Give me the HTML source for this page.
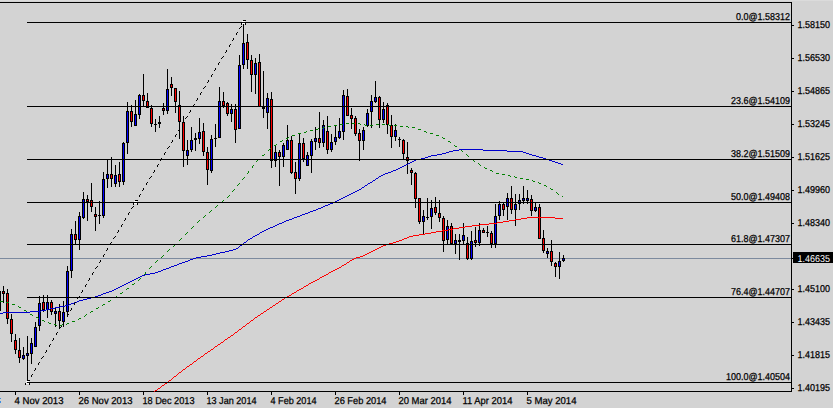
<!DOCTYPE html>
<html><head><meta charset="utf-8"><title>chart</title>
<style>
html,body{margin:0;padding:0;background:#d3d3d3;}
body{width:833px;height:408px;overflow:hidden;font-family:"Liberation Sans",sans-serif;}
svg{display:block;}
svg text{font-family:"Liberation Sans",sans-serif;font-size:10px;text-rendering:geometricPrecision;stroke:#000;stroke-width:0.25px;paint-order:stroke;}
</style></head><body>
<svg width="833" height="408" viewBox="0 0 833 408">
<rect x="0" y="0" width="833" height="408" fill="#d3d3d3"/>
<rect x="0" y="0" width="833" height="1" fill="#dbdbdb"/>
<g shape-rendering="crispEdges" fill="#000">
<!-- frame -->
<rect x="0" y="2" width="792" height="1"/>
<rect x="791" y="2" width="1" height="390"/>
<rect x="0" y="391" width="792" height="1"/>
<!-- price line -->
<rect x="0" y="258" width="791" height="1" fill="#7c8a9e"/>
<!-- ticks -->
<rect x="792" y="25" width="2" height="1"/><rect x="792" y="58" width="2" height="1"/><rect x="792" y="91" width="2" height="1"/><rect x="792" y="124" width="2" height="1"/><rect x="792" y="157" width="2" height="1"/><rect x="792" y="190" width="2" height="1"/><rect x="792" y="223" width="2" height="1"/><rect x="792" y="289" width="2" height="1"/><rect x="792" y="322" width="2" height="1"/><rect x="792" y="355" width="2" height="1"/><rect x="792" y="388" width="2" height="1"/><rect x="15" y="392" width="1" height="3"/><rect x="79" y="392" width="1" height="3"/><rect x="143" y="392" width="1" height="3"/><rect x="207" y="392" width="1" height="3"/><rect x="271" y="392" width="1" height="3"/><rect x="335" y="392" width="1" height="3"/><rect x="399" y="392" width="1" height="3"/><rect x="463" y="392" width="1" height="3"/><rect x="527" y="392" width="1" height="3"/>
<rect x="792" y="258" width="2" height="1"/>
</g>
<g shape-rendering="crispEdges" fill="#000">
<rect x="3" y="286" width="1" height="17"/><rect x="2" y="291" width="3" height="3"/><rect x="3" y="292" width="1" height="1" fill="#ff0000"/><rect x="7" y="289" width="1" height="35"/><rect x="6" y="293" width="3" height="26"/><rect x="7" y="294" width="1" height="24" fill="#ff0000"/><rect x="11" y="314" width="1" height="28"/><rect x="10" y="319" width="3" height="15"/><rect x="11" y="320" width="1" height="13" fill="#ff0000"/><rect x="15" y="334" width="1" height="20"/><rect x="14" y="340" width="3" height="10"/><rect x="15" y="341" width="1" height="8" fill="#ff0000"/><rect x="19" y="338" width="1" height="25"/><rect x="18" y="350" width="3" height="8"/><rect x="19" y="351" width="1" height="6" fill="#ff0000"/><rect x="23" y="347" width="1" height="13"/><rect x="22" y="355" width="3" height="4"/><rect x="23" y="356" width="1" height="2" fill="#0000ff"/><rect x="27" y="336" width="1" height="45"/><rect x="26" y="353" width="3" height="3"/><rect x="27" y="354" width="1" height="1" fill="#0000ff"/><rect x="31" y="338" width="1" height="26"/><rect x="30" y="343" width="3" height="11"/><rect x="31" y="344" width="1" height="9" fill="#0000ff"/><rect x="35" y="322" width="1" height="25"/><rect x="34" y="327" width="3" height="20"/><rect x="35" y="328" width="1" height="18" fill="#0000ff"/><rect x="39" y="296" width="1" height="35"/><rect x="38" y="303" width="3" height="23"/><rect x="39" y="304" width="1" height="21" fill="#0000ff"/><rect x="43" y="295" width="1" height="17"/><rect x="42" y="302" width="3" height="8"/><rect x="43" y="303" width="1" height="6" fill="#ff0000"/><rect x="47" y="295" width="1" height="23"/><rect x="46" y="302" width="3" height="8"/><rect x="47" y="303" width="1" height="6" fill="#0000ff"/><rect x="51" y="300" width="1" height="15"/><rect x="50" y="302" width="3" height="10"/><rect x="51" y="303" width="1" height="8" fill="#ff0000"/><rect x="55" y="308" width="1" height="19"/><rect x="54" y="311" width="3" height="3"/><rect x="55" y="312" width="1" height="1" fill="#0000ff"/><rect x="59" y="304" width="1" height="24"/><rect x="58" y="311" width="3" height="10"/><rect x="59" y="312" width="1" height="8" fill="#ff0000"/><rect x="63" y="301" width="1" height="26"/><rect x="62" y="312" width="3" height="10"/><rect x="63" y="313" width="1" height="8" fill="#0000ff"/><rect x="67" y="266" width="1" height="50"/><rect x="66" y="271" width="3" height="41"/><rect x="67" y="272" width="1" height="39" fill="#0000ff"/><rect x="71" y="229" width="1" height="49"/><rect x="70" y="234" width="3" height="37"/><rect x="71" y="235" width="1" height="35" fill="#0000ff"/><rect x="75" y="221" width="1" height="23"/><rect x="74" y="234" width="3" height="6"/><rect x="75" y="235" width="1" height="4" fill="#ff0000"/><rect x="79" y="212" width="1" height="38"/><rect x="78" y="216" width="3" height="24"/><rect x="79" y="217" width="1" height="22" fill="#0000ff"/><rect x="83" y="192" width="1" height="27"/><rect x="82" y="199" width="3" height="19"/><rect x="83" y="200" width="1" height="17" fill="#0000ff"/><rect x="87" y="195" width="1" height="26"/><rect x="86" y="199" width="3" height="3"/><rect x="87" y="200" width="1" height="1" fill="#ff0000"/><rect x="91" y="183" width="1" height="29"/><rect x="90" y="200" width="3" height="7"/><rect x="91" y="201" width="1" height="5" fill="#ff0000"/><rect x="95" y="207" width="1" height="24"/><rect x="94" y="214" width="3" height="3"/><rect x="95" y="215" width="1" height="1" fill="#ff0000"/><rect x="99" y="201" width="1" height="23"/><rect x="98" y="215" width="3" height="1"/><rect x="103" y="172" width="1" height="46"/><rect x="102" y="179" width="3" height="37"/><rect x="103" y="180" width="1" height="35" fill="#0000ff"/><rect x="107" y="160" width="1" height="28"/><rect x="106" y="174" width="3" height="5"/><rect x="107" y="175" width="1" height="3" fill="#0000ff"/><rect x="111" y="157" width="1" height="30"/><rect x="110" y="174" width="3" height="5"/><rect x="111" y="175" width="1" height="3" fill="#ff0000"/><rect x="115" y="165" width="1" height="22"/><rect x="114" y="175" width="3" height="9"/><rect x="115" y="176" width="1" height="7" fill="#0000ff"/><rect x="119" y="162" width="1" height="25"/><rect x="118" y="174" width="3" height="8"/><rect x="119" y="175" width="1" height="6" fill="#ff0000"/><rect x="123" y="142" width="1" height="43"/><rect x="122" y="143" width="3" height="39"/><rect x="123" y="144" width="1" height="37" fill="#0000ff"/><rect x="127" y="102" width="1" height="52"/><rect x="126" y="111" width="3" height="32"/><rect x="127" y="112" width="1" height="30" fill="#0000ff"/><rect x="131" y="105" width="1" height="22"/><rect x="130" y="111" width="3" height="11"/><rect x="131" y="112" width="1" height="9" fill="#ff0000"/><rect x="135" y="100" width="1" height="26"/><rect x="134" y="114" width="3" height="12"/><rect x="135" y="115" width="1" height="10" fill="#0000ff"/><rect x="139" y="94" width="1" height="25"/><rect x="138" y="95" width="3" height="20"/><rect x="139" y="96" width="1" height="18" fill="#0000ff"/><rect x="143" y="74" width="1" height="32"/><rect x="142" y="95" width="3" height="6"/><rect x="143" y="96" width="1" height="4" fill="#ff0000"/><rect x="147" y="93" width="1" height="15"/><rect x="146" y="101" width="3" height="7"/><rect x="147" y="102" width="1" height="5" fill="#ff0000"/><rect x="151" y="105" width="1" height="22"/><rect x="150" y="108" width="3" height="16"/><rect x="151" y="109" width="1" height="14" fill="#ff0000"/><rect x="155" y="119" width="1" height="13"/><rect x="154" y="124" width="3" height="1"/><rect x="159" y="116" width="1" height="12"/><rect x="158" y="122" width="3" height="2"/><rect x="163" y="103" width="1" height="12"/><rect x="162" y="108" width="3" height="3"/><rect x="163" y="109" width="1" height="1" fill="#ff0000"/><rect x="167" y="69" width="1" height="45"/><rect x="166" y="89" width="3" height="22"/><rect x="167" y="90" width="1" height="20" fill="#0000ff"/><rect x="171" y="77" width="1" height="19"/><rect x="170" y="84" width="3" height="4"/><rect x="171" y="85" width="1" height="2" fill="#ff0000"/><rect x="175" y="88" width="1" height="25"/><rect x="174" y="88" width="3" height="14"/><rect x="175" y="89" width="1" height="12" fill="#ff0000"/><rect x="179" y="91" width="1" height="48"/><rect x="178" y="105" width="3" height="17"/><rect x="179" y="106" width="1" height="15" fill="#ff0000"/><rect x="183" y="116" width="1" height="51"/><rect x="182" y="122" width="3" height="29"/><rect x="183" y="123" width="1" height="27" fill="#ff0000"/><rect x="187" y="140" width="1" height="25"/><rect x="186" y="150" width="3" height="6"/><rect x="187" y="151" width="1" height="4" fill="#0000ff"/><rect x="191" y="127" width="1" height="25"/><rect x="190" y="140" width="3" height="10"/><rect x="191" y="141" width="1" height="8" fill="#0000ff"/><rect x="195" y="133" width="1" height="18"/><rect x="194" y="138" width="3" height="2"/><rect x="199" y="118" width="1" height="26"/><rect x="198" y="132" width="3" height="7"/><rect x="199" y="133" width="1" height="5" fill="#0000ff"/><rect x="203" y="123" width="1" height="33"/><rect x="202" y="131" width="3" height="21"/><rect x="203" y="132" width="1" height="19" fill="#ff0000"/><rect x="207" y="147" width="1" height="38"/><rect x="206" y="152" width="3" height="18"/><rect x="207" y="153" width="1" height="16" fill="#ff0000"/><rect x="211" y="135" width="1" height="38"/><rect x="210" y="139" width="3" height="32"/><rect x="211" y="140" width="1" height="30" fill="#0000ff"/><rect x="215" y="124" width="1" height="23"/><rect x="214" y="138" width="3" height="1"/><rect x="219" y="87" width="1" height="51"/><rect x="218" y="101" width="3" height="37"/><rect x="219" y="102" width="1" height="35" fill="#0000ff"/><rect x="223" y="92" width="1" height="16"/><rect x="222" y="101" width="3" height="5"/><rect x="223" y="102" width="1" height="3" fill="#ff0000"/><rect x="227" y="102" width="1" height="14"/><rect x="226" y="103" width="3" height="11"/><rect x="227" y="104" width="1" height="9" fill="#ff0000"/><rect x="231" y="104" width="1" height="18"/><rect x="230" y="109" width="3" height="5"/><rect x="231" y="110" width="1" height="3" fill="#0000ff"/><rect x="235" y="104" width="1" height="39"/><rect x="234" y="109" width="3" height="21"/><rect x="235" y="110" width="1" height="19" fill="#ff0000"/><rect x="239" y="55" width="1" height="74"/><rect x="238" y="65" width="3" height="64"/><rect x="239" y="66" width="1" height="62" fill="#0000ff"/><rect x="243" y="23" width="1" height="46"/><rect x="242" y="43" width="3" height="22"/><rect x="243" y="44" width="1" height="20" fill="#0000ff"/><rect x="247" y="34" width="1" height="35"/><rect x="246" y="42" width="3" height="18"/><rect x="247" y="43" width="1" height="16" fill="#ff0000"/><rect x="251" y="55" width="1" height="37"/><rect x="250" y="60" width="3" height="15"/><rect x="251" y="61" width="1" height="13" fill="#ff0000"/><rect x="255" y="58" width="1" height="36"/><rect x="254" y="63" width="3" height="12"/><rect x="255" y="64" width="1" height="10" fill="#0000ff"/><rect x="259" y="54" width="1" height="53"/><rect x="258" y="62" width="3" height="45"/><rect x="259" y="63" width="1" height="43" fill="#ff0000"/><rect x="263" y="71" width="1" height="47"/><rect x="262" y="106" width="3" height="3"/><rect x="267" y="93" width="1" height="36"/><rect x="266" y="98" width="3" height="15"/><rect x="267" y="99" width="1" height="13" fill="#0000ff"/><rect x="271" y="92" width="1" height="76"/><rect x="270" y="99" width="3" height="62"/><rect x="271" y="100" width="1" height="60" fill="#ff0000"/><rect x="275" y="145" width="1" height="22"/><rect x="274" y="152" width="3" height="9"/><rect x="275" y="153" width="1" height="7" fill="#0000ff"/><rect x="279" y="150" width="1" height="36"/><rect x="278" y="152" width="3" height="5"/><rect x="279" y="153" width="1" height="3" fill="#ff0000"/><rect x="283" y="143" width="1" height="24"/><rect x="282" y="145" width="3" height="12"/><rect x="283" y="146" width="1" height="10" fill="#0000ff"/><rect x="287" y="125" width="1" height="25"/><rect x="286" y="140" width="3" height="10"/><rect x="287" y="141" width="1" height="8" fill="#0000ff"/><rect x="291" y="136" width="1" height="38"/><rect x="290" y="140" width="3" height="33"/><rect x="291" y="141" width="1" height="31" fill="#ff0000"/><rect x="295" y="162" width="1" height="32"/><rect x="294" y="172" width="3" height="7"/><rect x="295" y="173" width="1" height="5" fill="#ff0000"/><rect x="299" y="134" width="1" height="47"/><rect x="298" y="143" width="3" height="36"/><rect x="299" y="144" width="1" height="34" fill="#0000ff"/><rect x="303" y="138" width="1" height="24"/><rect x="302" y="143" width="3" height="16"/><rect x="303" y="144" width="1" height="14" fill="#ff0000"/><rect x="307" y="152" width="1" height="14"/><rect x="306" y="155" width="3" height="11"/><rect x="307" y="156" width="1" height="9" fill="#0000ff"/><rect x="311" y="139" width="1" height="34"/><rect x="310" y="141" width="3" height="15"/><rect x="311" y="142" width="1" height="13" fill="#0000ff"/><rect x="315" y="127" width="1" height="23"/><rect x="314" y="138" width="3" height="4"/><rect x="315" y="139" width="1" height="2" fill="#0000ff"/><rect x="319" y="112" width="1" height="36"/><rect x="318" y="138" width="3" height="5"/><rect x="319" y="139" width="1" height="3" fill="#ff0000"/><rect x="323" y="120" width="1" height="27"/><rect x="322" y="125" width="3" height="18"/><rect x="323" y="126" width="1" height="16" fill="#0000ff"/><rect x="327" y="116" width="1" height="38"/><rect x="326" y="131" width="3" height="19"/><rect x="327" y="132" width="1" height="17" fill="#ff0000"/><rect x="331" y="134" width="1" height="18"/><rect x="330" y="142" width="3" height="8"/><rect x="331" y="143" width="1" height="6" fill="#0000ff"/><rect x="335" y="125" width="1" height="20"/><rect x="334" y="137" width="3" height="5"/><rect x="335" y="138" width="1" height="3" fill="#0000ff"/><rect x="339" y="118" width="1" height="21"/><rect x="338" y="131" width="3" height="7"/><rect x="339" y="132" width="1" height="5" fill="#0000ff"/><rect x="343" y="90" width="1" height="50"/><rect x="342" y="95" width="3" height="37"/><rect x="343" y="96" width="1" height="35" fill="#0000ff"/><rect x="347" y="89" width="1" height="27"/><rect x="346" y="96" width="3" height="20"/><rect x="347" y="97" width="1" height="18" fill="#ff0000"/><rect x="351" y="108" width="1" height="21"/><rect x="350" y="115" width="3" height="4"/><rect x="351" y="116" width="1" height="2" fill="#ff0000"/><rect x="355" y="116" width="1" height="20"/><rect x="354" y="118" width="3" height="16"/><rect x="355" y="119" width="1" height="14" fill="#ff0000"/><rect x="359" y="129" width="1" height="32"/><rect x="358" y="133" width="3" height="8"/><rect x="359" y="134" width="1" height="6" fill="#ff0000"/><rect x="363" y="127" width="1" height="23"/><rect x="362" y="130" width="3" height="11"/><rect x="363" y="131" width="1" height="9" fill="#0000ff"/><rect x="367" y="109" width="1" height="18"/><rect x="366" y="113" width="3" height="13"/><rect x="367" y="114" width="1" height="11" fill="#0000ff"/><rect x="371" y="95" width="1" height="33"/><rect x="370" y="101" width="3" height="11"/><rect x="371" y="102" width="1" height="9" fill="#0000ff"/><rect x="375" y="81" width="1" height="22"/><rect x="374" y="97" width="3" height="5"/><rect x="375" y="98" width="1" height="3" fill="#0000ff"/><rect x="379" y="96" width="1" height="32"/><rect x="378" y="97" width="3" height="23"/><rect x="379" y="98" width="1" height="21" fill="#ff0000"/><rect x="383" y="102" width="1" height="21"/><rect x="382" y="109" width="3" height="11"/><rect x="383" y="110" width="1" height="9" fill="#0000ff"/><rect x="387" y="103" width="1" height="31"/><rect x="386" y="105" width="3" height="20"/><rect x="387" y="106" width="1" height="18" fill="#ff0000"/><rect x="391" y="115" width="1" height="33"/><rect x="390" y="125" width="3" height="12"/><rect x="391" y="126" width="1" height="10" fill="#ff0000"/><rect x="395" y="124" width="1" height="17"/><rect x="394" y="130" width="3" height="7"/><rect x="395" y="131" width="1" height="5" fill="#0000ff"/><rect x="399" y="137" width="1" height="10"/><rect x="398" y="139" width="3" height="1"/><rect x="403" y="139" width="1" height="20"/><rect x="402" y="140" width="3" height="14"/><rect x="403" y="141" width="1" height="12" fill="#ff0000"/><rect x="407" y="142" width="1" height="32"/><rect x="406" y="157" width="3" height="4"/><rect x="407" y="158" width="1" height="2" fill="#ff0000"/><rect x="411" y="168" width="1" height="17"/><rect x="410" y="170" width="3" height="3"/><rect x="411" y="171" width="1" height="1" fill="#ff0000"/><rect x="415" y="172" width="1" height="36"/><rect x="414" y="173" width="3" height="26"/><rect x="415" y="174" width="1" height="24" fill="#ff0000"/><rect x="419" y="198" width="1" height="26"/><rect x="418" y="198" width="3" height="24"/><rect x="419" y="199" width="1" height="22" fill="#ff0000"/><rect x="423" y="210" width="1" height="24"/><rect x="422" y="216" width="3" height="6"/><rect x="423" y="217" width="1" height="4" fill="#0000ff"/><rect x="427" y="198" width="1" height="22"/><rect x="426" y="217" width="3" height="1"/><rect x="431" y="200" width="1" height="29"/><rect x="430" y="208" width="3" height="9"/><rect x="431" y="209" width="1" height="7" fill="#0000ff"/><rect x="435" y="197" width="1" height="18"/><rect x="434" y="207" width="3" height="6"/><rect x="435" y="208" width="1" height="4" fill="#ff0000"/><rect x="439" y="200" width="1" height="22"/><rect x="438" y="213" width="3" height="5"/><rect x="439" y="214" width="1" height="3" fill="#ff0000"/><rect x="443" y="216" width="1" height="36"/><rect x="442" y="218" width="3" height="23"/><rect x="443" y="219" width="1" height="21" fill="#ff0000"/><rect x="447" y="220" width="1" height="24"/><rect x="446" y="226" width="3" height="14"/><rect x="447" y="227" width="1" height="12" fill="#0000ff"/><rect x="451" y="223" width="1" height="21"/><rect x="450" y="226" width="3" height="18"/><rect x="451" y="227" width="1" height="16" fill="#ff0000"/><rect x="455" y="234" width="1" height="20"/><rect x="454" y="240" width="3" height="4"/><rect x="455" y="241" width="1" height="2" fill="#0000ff"/><rect x="459" y="234" width="1" height="26"/><rect x="458" y="240" width="3" height="2"/><rect x="463" y="223" width="1" height="21"/><rect x="462" y="235" width="3" height="6"/><rect x="463" y="236" width="1" height="4" fill="#0000ff"/><rect x="467" y="237" width="1" height="23"/><rect x="466" y="243" width="3" height="16"/><rect x="467" y="244" width="1" height="14" fill="#ff0000"/><rect x="471" y="231" width="1" height="29"/><rect x="470" y="241" width="3" height="18"/><rect x="471" y="242" width="1" height="16" fill="#0000ff"/><rect x="475" y="227" width="1" height="20"/><rect x="474" y="240" width="3" height="3"/><rect x="475" y="241" width="1" height="1" fill="#ff0000"/><rect x="479" y="223" width="1" height="23"/><rect x="478" y="230" width="3" height="13"/><rect x="479" y="231" width="1" height="11" fill="#0000ff"/><rect x="483" y="228" width="1" height="5"/><rect x="482" y="230" width="3" height="3"/><rect x="483" y="231" width="1" height="1" fill="#ff0000"/><rect x="487" y="226" width="1" height="11"/><rect x="486" y="232" width="3" height="1"/><rect x="491" y="231" width="1" height="17"/><rect x="490" y="233" width="3" height="11"/><rect x="491" y="234" width="1" height="9" fill="#ff0000"/><rect x="495" y="204" width="1" height="44"/><rect x="494" y="216" width="3" height="28"/><rect x="495" y="217" width="1" height="26" fill="#0000ff"/><rect x="499" y="201" width="1" height="19"/><rect x="498" y="204" width="3" height="12"/><rect x="499" y="205" width="1" height="10" fill="#0000ff"/><rect x="503" y="203" width="1" height="13"/><rect x="502" y="204" width="3" height="6"/><rect x="503" y="205" width="1" height="4" fill="#ff0000"/><rect x="507" y="193" width="1" height="27"/><rect x="506" y="198" width="3" height="9"/><rect x="507" y="199" width="1" height="7" fill="#0000ff"/><rect x="511" y="186" width="1" height="28"/><rect x="510" y="198" width="3" height="12"/><rect x="511" y="199" width="1" height="10" fill="#ff0000"/><rect x="515" y="194" width="1" height="32"/><rect x="514" y="204" width="3" height="6"/><rect x="515" y="205" width="1" height="4" fill="#0000ff"/><rect x="519" y="194" width="1" height="16"/><rect x="518" y="200" width="3" height="4"/><rect x="519" y="201" width="1" height="2" fill="#0000ff"/><rect x="523" y="186" width="1" height="18"/><rect x="522" y="198" width="3" height="3"/><rect x="523" y="199" width="1" height="1" fill="#0000ff"/><rect x="527" y="190" width="1" height="14"/><rect x="526" y="198" width="3" height="3"/><rect x="527" y="199" width="1" height="1" fill="#0000ff"/><rect x="531" y="195" width="1" height="21"/><rect x="530" y="199" width="3" height="12"/><rect x="531" y="200" width="1" height="10" fill="#ff0000"/><rect x="535" y="203" width="1" height="9"/><rect x="534" y="207" width="3" height="4"/><rect x="535" y="208" width="1" height="2" fill="#0000ff"/><rect x="539" y="204" width="1" height="35"/><rect x="538" y="207" width="3" height="32"/><rect x="539" y="208" width="1" height="30" fill="#ff0000"/><rect x="543" y="230" width="1" height="23"/><rect x="542" y="238" width="3" height="13"/><rect x="543" y="239" width="1" height="11" fill="#ff0000"/><rect x="547" y="248" width="1" height="10"/><rect x="546" y="251" width="3" height="3"/><rect x="547" y="252" width="1" height="1" fill="#0000ff"/><rect x="551" y="240" width="1" height="26"/><rect x="550" y="251" width="3" height="11"/><rect x="551" y="252" width="1" height="9" fill="#ff0000"/><rect x="555" y="262" width="1" height="15"/><rect x="554" y="263" width="3" height="4"/><rect x="555" y="264" width="1" height="2" fill="#ff0000"/><rect x="559" y="252" width="1" height="27"/><rect x="558" y="261" width="3" height="6"/><rect x="559" y="262" width="1" height="4" fill="#0000ff"/><rect x="563" y="255" width="1" height="7"/><rect x="562" y="258" width="3" height="3"/><rect x="563" y="259" width="1" height="1" fill="#0000ff"/><rect x="0" y="291" width="1" height="20"/>
</g>
<g shape-rendering="crispEdges">
<path d="M346 123h3v1h-3zM352 123h3v1h-3zM358 123h2v1h-2zM340 124h3v1h-3zM360 124h1v1h-1zM364 124h1v1h-1zM376 124h3v1h-3zM382 124h3v1h-3zM388 124h1v1h-1zM334 125h3v1h-3zM365 125h2v1h-2zM370 125h3v1h-3zM389 125h2v1h-2zM394 125h3v1h-3zM328 126h3v1h-3zM400 126h3v1h-3zM406 126h2v1h-2zM323 127h2v1h-2zM408 127h1v1h-1zM412 127h3v1h-3zM318 128h1v1h-1zM322 128h1v1h-1zM316 129h2v1h-2zM418 129h3v1h-3zM310 130h3v1h-3zM306 131h1v1h-1zM424 131h2v1h-2zM304 132h2v1h-2zM426 132h1v1h-1zM298 133h3v1h-3zM430 133h3v1h-3zM292 135h3v1h-3zM436 135h3v1h-3zM288 137h1v1h-1zM442 137h1v1h-1zM286 138h2v1h-2zM443 138h2v1h-2zM282 140h1v1h-1zM280 141h2v1h-2zM448 141h2v1h-2zM450 142h1v1h-1zM276 144h1v1h-1zM274 145h2v1h-2zM454 145h1v1h-1zM455 146h2v1h-2zM270 148h1v1h-1zM269 149h1v1h-1zM460 149h1v1h-1zM268 150h1v1h-1zM461 150h1v1h-1zM462 151h1v1h-1zM264 154h1v1h-1zM466 154h1v1h-1zM262 155h2v1h-2zM467 155h1v1h-1zM468 156h1v1h-1zM258 159h1v1h-1zM472 159h1v1h-1zM257 160h1v1h-1zM473 160h1v1h-1zM256 161h1v1h-1zM474 161h1v1h-1zM478 163h1v1h-1zM479 164h1v1h-1zM253 165h1v1h-1zM480 165h1v1h-1zM252 166h1v1h-1zM252 167h1v1h-1zM484 167h1v1h-1zM485 168h2v1h-2zM490 170h2v1h-2zM248 171h1v1h-1zM492 171h1v1h-1zM248 172h1v1h-1zM247 173h1v1h-1zM496 173h3v1h-3zM502 174h3v1h-3zM508 175h2v1h-2zM510 176h1v1h-1zM514 176h1v1h-1zM244 177h1v1h-1zM515 177h2v1h-2zM243 178h1v1h-1zM520 178h3v1h-3zM242 179h1v1h-1zM526 179h3v1h-3zM532 180h1v1h-1zM533 181h2v1h-2zM538 182h1v1h-1zM239 183h1v1h-1zM539 183h2v1h-2zM238 184h1v1h-1zM237 185h1v1h-1zM544 185h2v1h-2zM546 186h1v1h-1zM550 188h1v1h-1zM234 189h1v1h-1zM551 189h2v1h-2zM233 190h1v1h-1zM232 191h1v1h-1zM556 192h1v1h-1zM557 193h1v1h-1zM558 194h1v1h-1zM229 195h1v1h-1zM228 196h1v1h-1zM562 196h1v1h-1zM227 197h1v1h-1zM223 200h1v1h-1zM222 201h1v1h-1zM221 202h1v1h-1zM217 205h1v1h-1zM216 206h1v1h-1zM215 207h1v1h-1zM211 210h1v1h-1zM210 211h1v1h-1zM209 212h1v1h-1zM205 215h1v1h-1zM204 216h1v1h-1zM203 217h1v1h-1zM199 220h1v1h-1zM198 221h1v1h-1zM197 222h1v1h-1zM193 226h1v1h-1zM192 227h1v1h-1zM191 228h1v1h-1zM187 232h1v1h-1zM186 233h1v1h-1zM185 234h1v1h-1zM181 238h1v1h-1zM180 239h1v1h-1zM179 240h1v1h-1zM175 244h1v1h-1zM174 245h1v1h-1zM173 246h1v1h-1zM169 249h1v1h-1zM168 250h1v1h-1zM167 251h1v1h-1zM163 255h1v1h-1zM162 256h1v1h-1zM161 257h1v1h-1zM157 260h1v1h-1zM156 261h1v1h-1zM155 262h1v1h-1zM151 266h1v1h-1zM150 267h1v1h-1zM149 268h1v1h-1zM145 272h1v1h-1zM145 273h1v1h-1zM144 274h1v1h-1zM140 278h1v1h-1zM139 279h1v1h-1zM138 280h1v1h-1zM134 283h1v1h-1zM132 284h2v1h-2zM127 288h2v1h-2zM126 289h1v1h-1zM122 292h1v1h-1zM120 293h2v1h-2zM116 296h1v1h-1zM114 297h2v1h-2zM110 300h1v1h-1zM0 301h3v1h-3zM108 301h2v1h-2zM6 302h3v1h-3zM12 304h3v1h-3zM103 304h2v1h-2zM102 305h1v1h-1zM18 306h1v1h-1zM19 307h2v1h-2zM98 307h1v1h-1zM96 308h2v1h-2zM24 310h2v1h-2zM26 311h1v1h-1zM91 311h2v1h-2zM90 312h1v1h-1zM30 314h2v1h-2zM86 314h1v1h-1zM32 315h1v1h-1zM85 315h1v1h-1zM84 316h1v1h-1zM36 317h2v1h-2zM38 318h1v1h-1zM79 318h2v1h-2zM78 319h1v1h-1zM42 320h2v1h-2zM44 321h1v1h-1zM72 321h3v1h-3zM48 322h1v1h-1zM49 323h2v1h-2zM67 323h2v1h-2zM54 324h2v1h-2zM62 324h1v1h-1zM66 324h1v1h-1zM56 325h1v1h-1zM60 325h2v1h-2z" fill="#008000"/>
<path d="M459 149h24v1h-24zM453 150h6v1h-6zM483 150h24v1h-24zM449 151h4v1h-4zM507 151h16v1h-16zM446 152h3v1h-3zM523 152h3v1h-3zM442 153h4v1h-4zM526 153h3v1h-3zM437 154h5v1h-5zM529 154h3v1h-3zM431 155h6v1h-6zM532 155h4v1h-4zM428 156h3v1h-3zM536 156h3v1h-3zM425 157h3v1h-3zM539 157h4v1h-4zM421 158h4v1h-4zM543 158h3v1h-3zM416 159h5v1h-5zM546 159h3v1h-3zM414 160h2v1h-2zM549 160h3v1h-3zM412 161h2v1h-2zM552 161h3v1h-3zM410 162h2v1h-2zM555 162h3v1h-3zM408 163h2v1h-2zM558 163h3v1h-3zM406 164h2v1h-2zM561 164h2v1h-2zM404 165h2v1h-2zM402 166h2v1h-2zM400 167h2v1h-2zM398 168h2v1h-2zM396 169h2v1h-2zM393 170h3v1h-3zM391 171h2v1h-2zM388 172h3v1h-3zM385 173h3v1h-3zM383 174h2v1h-2zM381 175h2v1h-2zM379 176h2v1h-2zM378 177h1v1h-1zM376 178h2v1h-2zM375 179h1v1h-1zM373 180h2v1h-2zM372 181h1v1h-1zM370 182h2v1h-2zM368 183h2v1h-2zM367 184h1v1h-1zM365 185h2v1h-2zM364 186h1v1h-1zM362 187h2v1h-2zM361 188h1v1h-1zM359 189h2v1h-2zM357 190h2v1h-2zM355 191h2v1h-2zM353 192h2v1h-2zM351 193h2v1h-2zM349 194h2v1h-2zM347 195h2v1h-2zM345 196h2v1h-2zM343 197h2v1h-2zM341 198h2v1h-2zM339 199h2v1h-2zM337 200h2v1h-2zM335 201h2v1h-2zM333 202h2v1h-2zM330 203h3v1h-3zM328 204h2v1h-2zM325 205h3v1h-3zM323 206h2v1h-2zM321 207h2v1h-2zM318 208h3v1h-3zM316 209h2v1h-2zM313 210h3v1h-3zM310 211h3v1h-3zM308 212h2v1h-2zM305 213h3v1h-3zM302 214h3v1h-3zM300 215h2v1h-2zM297 216h3v1h-3zM294 217h3v1h-3zM292 218h2v1h-2zM289 219h3v1h-3zM286 220h3v1h-3zM284 221h2v1h-2zM282 222h2v1h-2zM279 223h3v1h-3zM277 224h2v1h-2zM275 225h2v1h-2zM273 226h2v1h-2zM270 227h3v1h-3zM268 228h2v1h-2zM266 229h2v1h-2zM264 230h2v1h-2zM262 231h2v1h-2zM260 232h2v1h-2zM259 233h1v1h-1zM257 234h2v1h-2zM255 235h2v1h-2zM253 236h2v1h-2zM252 237h1v1h-1zM250 238h2v1h-2zM248 239h2v1h-2zM247 240h1v1h-1zM246 241h1v1h-1zM244 242h2v1h-2zM243 243h1v1h-1zM242 244h1v1h-1zM240 245h2v1h-2zM239 246h1v1h-1zM238 247h1v1h-1zM236 248h2v1h-2zM233 249h3v1h-3zM229 250h4v1h-4zM225 251h4v1h-4zM220 252h5v1h-5zM216 253h4v1h-4zM212 254h4v1h-4zM207 255h5v1h-5zM201 256h6v1h-6zM196 257h5v1h-5zM193 258h3v1h-3zM190 259h3v1h-3zM188 260h2v1h-2zM185 261h3v1h-3zM182 262h3v1h-3zM179 263h3v1h-3zM177 264h2v1h-2zM174 265h3v1h-3zM171 266h3v1h-3zM169 267h2v1h-2zM166 268h3v1h-3zM163 269h3v1h-3zM161 270h2v1h-2zM158 271h3v1h-3zM155 272h3v1h-3zM150 273h5v1h-5zM145 274h5v1h-5zM142 275h3v1h-3zM140 276h2v1h-2zM138 277h2v1h-2zM136 278h2v1h-2zM134 279h2v1h-2zM132 280h2v1h-2zM130 281h2v1h-2zM128 282h2v1h-2zM126 283h2v1h-2zM124 284h2v1h-2zM122 285h2v1h-2zM120 286h2v1h-2zM118 287h2v1h-2zM116 288h2v1h-2zM114 289h2v1h-2zM112 290h2v1h-2zM109 291h3v1h-3zM106 292h3v1h-3zM103 293h3v1h-3zM101 294h2v1h-2zM98 295h3v1h-3zM95 296h3v1h-3zM91 297h4v1h-4zM87 298h4v1h-4zM83 299h4v1h-4zM79 300h4v1h-4zM77 301h2v1h-2zM74 302h3v1h-3zM71 303h3v1h-3zM69 304h2v1h-2zM65 305h4v1h-4zM60 306h5v1h-5zM55 307h5v1h-5zM50 308h5v1h-5zM46 309h4v1h-4zM41 310h5v1h-5zM30 311h11v1h-11zM3 312h27v1h-27zM0 313h3v1h-3z" fill="#0000cd"/>
<path d="M527 217h28v1h-28zM521 218h6v1h-6zM555 218h8v1h-8zM515 219h6v1h-6zM509 220h6v1h-6zM503 221h6v1h-6zM497 222h6v1h-6zM489 223h8v1h-8zM480 224h9v1h-9zM472 225h8v1h-8zM465 226h7v1h-7zM459 227h6v1h-6zM453 228h6v1h-6zM448 229h5v1h-5zM442 230h6v1h-6zM436 231h6v1h-6zM431 232h5v1h-5zM425 233h6v1h-6zM419 234h6v1h-6zM413 235h6v1h-6zM409 236h4v1h-4zM407 237h2v1h-2zM404 238h3v1h-3zM402 239h2v1h-2zM399 240h3v1h-3zM396 241h3v1h-3zM393 242h3v1h-3zM389 243h4v1h-4zM386 244h3v1h-3zM383 245h3v1h-3zM381 246h2v1h-2zM379 247h2v1h-2zM377 248h2v1h-2zM375 249h2v1h-2zM373 250h2v1h-2zM371 251h2v1h-2zM369 252h2v1h-2zM367 253h2v1h-2zM365 254h2v1h-2zM363 255h2v1h-2zM360 256h3v1h-3zM356 257h4v1h-4zM354 258h2v1h-2zM352 259h2v1h-2zM350 260h2v1h-2zM349 261h1v1h-1zM347 262h2v1h-2zM346 263h1v1h-1zM344 264h2v1h-2zM342 265h2v1h-2zM341 266h1v1h-1zM339 267h2v1h-2zM337 268h2v1h-2zM335 269h2v1h-2zM333 270h2v1h-2zM331 271h2v1h-2zM329 272h2v1h-2zM328 273h1v1h-1zM326 274h2v1h-2zM324 275h2v1h-2zM322 276h2v1h-2zM320 277h2v1h-2zM319 278h1v1h-1zM317 279h2v1h-2zM315 280h2v1h-2zM313 281h2v1h-2zM311 282h2v1h-2zM309 283h2v1h-2zM308 284h1v1h-1zM306 285h2v1h-2zM304 286h2v1h-2zM303 287h1v1h-1zM301 288h2v1h-2zM299 289h2v1h-2zM297 290h2v1h-2zM296 291h1v1h-1zM294 292h2v1h-2zM292 293h2v1h-2zM291 294h1v1h-1zM289 295h2v1h-2zM287 296h2v1h-2zM285 297h2v1h-2zM284 298h1v1h-1zM282 299h2v1h-2zM281 300h1v1h-1zM279 301h2v1h-2zM278 302h1v1h-1zM276 303h2v1h-2zM275 304h1v1h-1zM273 305h2v1h-2zM272 306h1v1h-1zM270 307h2v1h-2zM269 308h1v1h-1zM267 309h2v1h-2zM266 310h1v1h-1zM264 311h2v1h-2zM263 312h1v1h-1zM261 313h2v1h-2zM260 314h1v1h-1zM258 315h2v1h-2zM257 316h1v1h-1zM255 317h2v1h-2zM254 318h1v1h-1zM253 319h1v1h-1zM251 320h2v1h-2zM250 321h1v1h-1zM249 322h1v1h-1zM247 323h2v1h-2zM246 324h1v1h-1zM245 325h1v1h-1zM243 326h2v1h-2zM242 327h1v1h-1zM241 328h1v1h-1zM239 329h2v1h-2zM238 330h1v1h-1zM237 331h1v1h-1zM235 332h2v1h-2zM234 333h1v1h-1zM233 334h1v1h-1zM231 335h2v1h-2zM230 336h1v1h-1zM228 337h2v1h-2zM227 338h1v1h-1zM225 339h2v1h-2zM224 340h1v1h-1zM223 341h1v1h-1zM221 342h2v1h-2zM220 343h1v1h-1zM218 344h2v1h-2zM217 345h1v1h-1zM215 346h2v1h-2zM214 347h1v1h-1zM213 348h1v1h-1zM211 349h2v1h-2zM210 350h1v1h-1zM208 351h2v1h-2zM207 352h1v1h-1zM205 353h2v1h-2zM204 354h1v1h-1zM203 355h1v1h-1zM201 356h2v1h-2zM200 357h1v1h-1zM198 358h2v1h-2zM197 359h1v1h-1zM196 360h1v1h-1zM194 361h2v1h-2zM193 362h1v1h-1zM192 363h1v1h-1zM190 364h2v1h-2zM189 365h1v1h-1zM187 366h2v1h-2zM186 367h1v1h-1zM185 368h1v1h-1zM183 369h2v1h-2zM182 370h1v1h-1zM181 371h1v1h-1zM179 372h2v1h-2zM178 373h1v1h-1zM177 374h1v1h-1zM176 375h1v1h-1zM174 376h2v1h-2zM173 377h1v1h-1zM172 378h1v1h-1zM171 379h1v1h-1zM169 380h2v1h-2zM168 381h1v1h-1zM167 382h1v1h-1zM165 383h2v1h-2zM164 384h1v1h-1zM162 385h2v1h-2zM161 386h1v1h-1zM160 387h1v1h-1zM158 388h2v1h-2zM157 389h1v1h-1zM155 390h2v1h-2zM154 391h1v1h-1z" fill="#ff0000"/>
</g>
<g shape-rendering="crispEdges" fill="#000">
<!-- fib lines -->
<rect x="27" y="22" width="764" height="1"/><rect x="27" y="106" width="764" height="1"/><rect x="27" y="159" width="764" height="1"/><rect x="27" y="202" width="764" height="1"/><rect x="27" y="244" width="764" height="1"/><rect x="27" y="297" width="764" height="1"/><rect x="27" y="382" width="764" height="1"/>
</g>
<g shape-rendering="crispEdges">
<!-- trend line -->
<path d="M243 22h1v1h-1zM241 26h1v1h-1zM240 27h1v1h-1zM239 28h1v1h-1zM237 32h1v1h-1zM236 33h1v1h-1zM236 34h1v1h-1zM233 38h1v1h-1zM233 39h1v1h-1zM232 40h1v1h-1zM230 44h1v1h-1zM229 45h1v1h-1zM229 46h1v1h-1zM226 50h1v1h-1zM226 51h1v1h-1zM225 52h1v1h-1zM223 56h1v1h-1zM222 57h1v1h-1zM221 58h1v1h-1zM219 62h1v1h-1zM218 63h1v1h-1zM218 64h1v1h-1zM215 68h1v1h-1zM215 69h1v1h-1zM214 70h1v1h-1zM212 74h1v1h-1zM211 75h1v1h-1zM211 76h1v1h-1zM208 80h1v1h-1zM208 81h1v1h-1zM207 82h1v1h-1zM205 86h1v1h-1zM204 87h1v1h-1zM203 88h1v1h-1zM201 92h1v1h-1zM200 93h1v1h-1zM200 94h1v1h-1zM197 98h1v1h-1zM197 99h1v1h-1zM196 100h1v1h-1zM194 104h1v1h-1zM193 105h1v1h-1zM193 106h1v1h-1zM190 110h1v1h-1zM190 111h1v1h-1zM189 112h1v1h-1zM187 116h1v1h-1zM186 117h1v1h-1zM185 118h1v1h-1zM183 122h1v1h-1zM182 123h1v1h-1zM182 124h1v1h-1zM179 128h1v1h-1zM179 129h1v1h-1zM178 130h1v1h-1zM176 134h1v1h-1zM175 135h1v1h-1zM175 136h1v1h-1zM172 140h1v1h-1zM172 141h1v1h-1zM171 142h1v1h-1zM169 146h1v1h-1zM168 147h1v1h-1zM167 148h1v1h-1zM165 152h1v1h-1zM164 153h1v1h-1zM164 154h1v1h-1zM161 158h1v1h-1zM161 159h1v1h-1zM160 160h1v1h-1zM158 164h1v1h-1zM157 165h1v1h-1zM157 166h1v1h-1zM154 170h1v1h-1zM154 171h1v1h-1zM153 172h1v1h-1zM151 176h1v1h-1zM150 177h1v1h-1zM149 178h1v1h-1zM147 182h1v1h-1zM146 183h1v1h-1zM146 184h1v1h-1zM143 188h1v1h-1zM143 189h1v1h-1zM142 190h1v1h-1zM140 194h1v1h-1zM139 195h1v1h-1zM139 196h1v1h-1zM136 200h1v1h-1zM136 201h1v1h-1zM135 202h1v1h-1zM133 206h1v1h-1zM132 207h1v1h-1zM131 208h1v1h-1zM129 212h1v1h-1zM128 213h1v1h-1zM128 214h1v1h-1zM125 218h1v1h-1zM125 219h1v1h-1zM124 220h1v1h-1zM122 224h1v1h-1zM121 225h1v1h-1zM121 226h1v1h-1zM118 230h1v1h-1zM118 231h1v1h-1zM117 232h1v1h-1zM115 236h1v1h-1zM114 237h1v1h-1zM113 238h1v1h-1zM111 242h1v1h-1zM110 243h1v1h-1zM110 244h1v1h-1zM107 248h1v1h-1zM107 249h1v1h-1zM106 250h1v1h-1zM104 254h1v1h-1zM103 255h1v1h-1zM103 256h1v1h-1zM100 260h1v1h-1zM100 261h1v1h-1zM99 262h1v1h-1zM97 266h1v1h-1zM96 267h1v1h-1zM95 268h1v1h-1zM93 272h1v1h-1zM92 273h1v1h-1zM92 274h1v1h-1zM89 278h1v1h-1zM89 279h1v1h-1zM88 280h1v1h-1zM86 284h1v1h-1zM85 285h1v1h-1zM85 286h1v1h-1zM82 290h1v1h-1zM82 291h1v1h-1zM81 292h1v1h-1zM79 296h1v1h-1zM78 297h1v1h-1zM77 298h1v1h-1zM75 302h1v1h-1zM74 303h1v1h-1zM74 304h1v1h-1zM71 308h1v1h-1zM71 309h1v1h-1zM70 310h1v1h-1zM68 314h1v1h-1zM67 315h1v1h-1zM67 316h1v1h-1zM64 320h1v1h-1zM64 321h1v1h-1zM63 322h1v1h-1zM61 326h1v1h-1zM60 327h1v1h-1zM59 328h1v1h-1zM57 332h1v1h-1zM56 333h1v1h-1zM56 334h1v1h-1zM53 338h1v1h-1zM53 339h1v1h-1zM52 340h1v1h-1zM50 344h1v1h-1zM49 345h1v1h-1zM49 346h1v1h-1zM46 350h1v1h-1zM46 351h1v1h-1zM45 352h1v1h-1zM43 356h1v1h-1zM42 357h1v1h-1zM41 358h1v1h-1zM39 362h1v1h-1zM38 363h1v1h-1zM38 364h1v1h-1zM35 368h1v1h-1zM35 369h1v1h-1zM34 370h1v1h-1zM32 374h1v1h-1zM31 375h1v1h-1zM31 376h1v1h-1zM28 380h1v1h-1zM28 381h1v1h-1zM27 382h1v1h-1z" fill="#000"/>
</g>
<g shape-rendering="crispEdges">
<!-- handles -->
<rect x="26" y="381" width="3" height="1" fill="#fff"/><rect x="26" y="383" width="3" height="1" fill="#fff"/><rect x="27" y="380" width="3" height="1" fill="#000"/><rect x="25" y="383" width="1" height="2" fill="#000"/><rect x="29" y="383" width="1" height="2" fill="#000"/><rect x="134" y="201" width="3" height="1" fill="#fff"/><rect x="134" y="203" width="3" height="1" fill="#fff"/><rect x="135" y="200" width="3" height="1" fill="#000"/><rect x="133" y="203" width="1" height="2" fill="#000"/><rect x="137" y="203" width="1" height="2" fill="#000"/><rect x="242" y="21" width="3" height="1" fill="#fff"/><rect x="242" y="23" width="3" height="1" fill="#fff"/><rect x="243" y="20" width="3" height="1" fill="#000"/><rect x="241" y="23" width="1" height="2" fill="#000"/><rect x="245" y="23" width="1" height="2" fill="#000"/>
<!-- price box -->
<rect x="793" y="252" width="40" height="11" fill="#000"/>
</g>
<g>
<text x="790" y="20" textLength="54" lengthAdjust="spacingAndGlyphs" text-anchor="end" fill="#000">0.0@1.58312</text><text x="790" y="104" textLength="59" lengthAdjust="spacingAndGlyphs" text-anchor="end" fill="#000">23.6@1.54109</text><text x="790" y="157" textLength="59" lengthAdjust="spacingAndGlyphs" text-anchor="end" fill="#000">38.2@1.51509</text><text x="790" y="200" textLength="59" lengthAdjust="spacingAndGlyphs" text-anchor="end" fill="#000">50.0@1.49408</text><text x="790" y="242" textLength="59" lengthAdjust="spacingAndGlyphs" text-anchor="end" fill="#000">61.8@1.47307</text><text x="790" y="295" textLength="59" lengthAdjust="spacingAndGlyphs" text-anchor="end" fill="#000">76.4@1.44707</text><text x="790" y="380" textLength="64" lengthAdjust="spacingAndGlyphs" text-anchor="end" fill="#000">100.0@1.40504</text><text x="797.5" y="28" textLength="32.5" lengthAdjust="spacingAndGlyphs" text-anchor="start" fill="#000">1.58150</text><text x="797.5" y="61" textLength="32.5" lengthAdjust="spacingAndGlyphs" text-anchor="start" fill="#000">1.56530</text><text x="797.5" y="94" textLength="32.5" lengthAdjust="spacingAndGlyphs" text-anchor="start" fill="#000">1.54865</text><text x="797.5" y="127" textLength="32.5" lengthAdjust="spacingAndGlyphs" text-anchor="start" fill="#000">1.53245</text><text x="797.5" y="160" textLength="32.5" lengthAdjust="spacingAndGlyphs" text-anchor="start" fill="#000">1.51625</text><text x="797.5" y="193" textLength="32.5" lengthAdjust="spacingAndGlyphs" text-anchor="start" fill="#000">1.49960</text><text x="797.5" y="226" textLength="32.5" lengthAdjust="spacingAndGlyphs" text-anchor="start" fill="#000">1.48340</text><text x="797.5" y="292" textLength="32.5" lengthAdjust="spacingAndGlyphs" text-anchor="start" fill="#000">1.45100</text><text x="797.5" y="325" textLength="32.5" lengthAdjust="spacingAndGlyphs" text-anchor="start" fill="#000">1.43435</text><text x="797.5" y="358" textLength="32.5" lengthAdjust="spacingAndGlyphs" text-anchor="start" fill="#000">1.41815</text><text x="797.5" y="391" textLength="32.5" lengthAdjust="spacingAndGlyphs" text-anchor="start" fill="#000">1.40195</text><text x="14.5" y="404" textLength="49" lengthAdjust="spacingAndGlyphs" text-anchor="start" fill="#000">4 Nov 2013</text><text x="78.5" y="404" textLength="54" lengthAdjust="spacingAndGlyphs" text-anchor="start" fill="#000">26 Nov 2013</text><text x="142.5" y="404" textLength="52" lengthAdjust="spacingAndGlyphs" text-anchor="start" fill="#000">18 Dec 2013</text><text x="206.5" y="404" textLength="50" lengthAdjust="spacingAndGlyphs" text-anchor="start" fill="#000">13 Jan 2014</text><text x="270.5" y="404" textLength="46" lengthAdjust="spacingAndGlyphs" text-anchor="start" fill="#000">4 Feb 2014</text><text x="334.5" y="404" textLength="52" lengthAdjust="spacingAndGlyphs" text-anchor="start" fill="#000">26 Feb 2014</text><text x="398.5" y="404" textLength="53" lengthAdjust="spacingAndGlyphs" text-anchor="start" fill="#000">20 Mar 2014</text><text x="462.5" y="404" textLength="50" lengthAdjust="spacingAndGlyphs" text-anchor="start" fill="#000">11 Apr 2014</text><text x="526.5" y="404" textLength="50" lengthAdjust="spacingAndGlyphs" text-anchor="start" fill="#000">5 May 2014</text>
<text x="797.5" y="262" textLength="32.5" lengthAdjust="spacingAndGlyphs" fill="#fff" style="stroke:none">1.46635</text>
<rect x="0" y="398" width="1" height="1" fill="#3f8ee0" shape-rendering="crispEdges"/><rect x="0" y="401" width="1" height="2" fill="#3f8ee0" shape-rendering="crispEdges"/>
</g>
</svg>
</body></html>
